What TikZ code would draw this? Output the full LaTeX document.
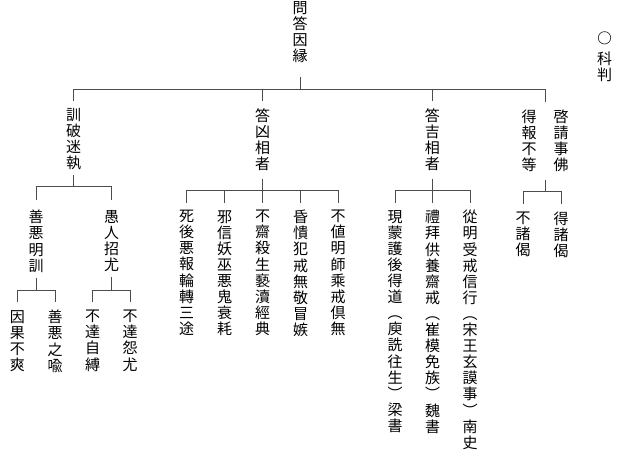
\documentclass[tikz,border=0pt]{standalone}
\usepackage{fontspec}
\newfontfamily\cjk{Noto Sans CJK JP}
\makeatletter
\newcommand\vcol[1]{\vtop{\baselineskip=16.1pt\lineskiplimit=-20pt%
  \@tfor\vc@ch:=#1\do{\hbox to 15pt{\hss\vc@ch\hss}}}}
\makeatother

\begin{document}
\begin{tikzpicture}[x=1pt, y=-1pt,
  every node/.style={inner sep=0pt, anchor=north, font=\cjk\fontsize{15}{16.1}\selectfont},
  branch/.style={draw=black!70, line width=0.7pt},
  drop/.style={branch, shorten >=7.5pt}]
\useasboundingbox (0,0) rectangle (618,451);
% top
\node (mondo) at (300,1) {\vcol{問答因縁}};
\node[draw=black!80, line width=0.7pt, circle, minimum size=12.4pt, anchor=center] (mark) at (604.5,37.8) {};
\node (kahan) at (604.5,52) {\vcol{科判}};
% first row
\node (kunpa) at (73.7,108) {\vcol{訓破迷執}};
\node (kyoso) at (262.7,108) {\vcol{答凶相者}};
\node (kisso) at (432.3,108) {\vcol{答吉相者}};
\node (keisho) at (545,109.5) {\vcol{得報不等}\hspace{17pt}\vcol{啓請事佛}};
% second row
\node (zenaku) at (36,210) {\vcol{善悪明訓}};
\node (gujin) at (111.7,210) {\vcol{愚人招尤}};
\node (shigo) at (186.7,210) {\vcol{死後悪報輪轉三途}};
\node (jashin) at (224.5,210) {\vcol{邪信妖巫悪鬼衰耗}};
\node (fusai) at (262.5,210) {\vcol{不齋殺生褻瀆經典}};
\node (konkai) at (300.5,210) {\vcol{昏憒犯戒無敬冒嫉}};
\node (fuchi) at (338,210) {\vcol{不値明師乘戒倶無}};
\node (genmo) at (395,210) {\vcol{現蒙護後得道︵庾詵往生︶梁書}};
\node (raihai) at (432.5,210) {\vcol{禮拜供養齋戒︵崔模免族︶魏書}};
\node (jumyo) at (470,210) {\vcol{從明受戒信行︵宋王玄謨事︶南史}};
\node (fusho) at (523,212) {\vcol{不諸偈}};
\node (tokusho) at (561,212) {\vcol{得諸偈}};
% third row
\node (inga) at (17.3,310) {\vcol{因果不爽}};
\node (yuyu) at (55,310) {\vcol{善悪之喩}};
\node (futatsu) at (92.7,310) {\vcol{不達自縛}};
\node (enyu) at (130,310) {\vcol{不達怨尤}};
% forks
\draw[branch] (mondo.south) ++(0,14) -- ++(0,12) coordinate (j0);
\draw[drop, shorten <=7.5pt] (kunpa.north) |- (j0) -| (keisho.north);
\foreach \n in {kyoso,kisso} \draw[drop] (j0 -| \n.north) -- (\n.north);
\draw[branch] (kunpa.south) ++(0,5) -- ++(0,11) coordinate (j1);
\draw[drop, shorten <=10pt, shorten >=10pt] (zenaku.north) |- (j1) -| (gujin.north);
\draw[branch] (kyoso.south) ++(0,8) -- ++(0,12) coordinate (j2);
\draw[drop, shorten <=7.5pt] (shigo.north) |- (j2) -| (fuchi.north);
\foreach \n in {jashin,fusai,konkai} \draw[drop] (j2 -| \n.north) -- (\n.north);
\draw[branch] (kisso.south) ++(0,8) -- ++(0,12) coordinate (j3);
\draw[drop, shorten <=7.5pt] (genmo.north) |- (j3) -| (jumyo.north);
\draw[drop] (j3 -| raihai.north) -- (raihai.north);
\draw[branch] (keisho.south) ++(0,8) -- ++(0,11) coordinate (j4);
\draw[drop, shorten <=8.5pt, shorten >=8.5pt] (fusho.north) |- (j4) -| (tokusho.north);
\draw[branch] (zenaku.south) ++(0,5) -- ++(0,13) coordinate (j5);
\draw[drop, shorten <=8pt, shorten >=8pt] (inga.north) |- (j5) -| (yuyu.north);
\draw[branch] (gujin.south) ++(0,5) -- ++(0,13) coordinate (j6);
\draw[drop, shorten <=8pt, shorten >=8pt] (futatsu.north) |- (j6) -| (enyu.north);
\end{tikzpicture}
\end{document}
